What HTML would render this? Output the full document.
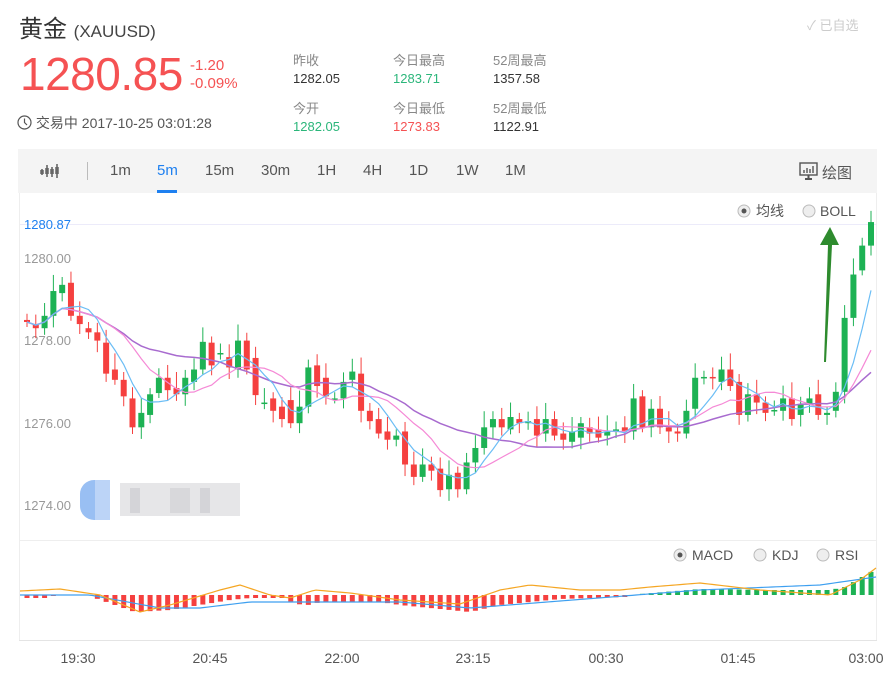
<!DOCTYPE html>
<html><head><meta charset="utf-8">
<style>
body{margin:0;width:887px;height:673px;background:#fff;font-family:"Liberation Sans","Noto Sans CJK SC",sans-serif;overflow:hidden;position:relative}
.a{position:absolute;white-space:nowrap}
</style></head><body>
<div class="a" style="left:19px;top:9px;font-size:24px;color:#333">黄金 <span style="font-size:17px;color:#444">(XAUUSD)</span></div>
<div class="a" style="left:807px;top:15px;font-size:13px;color:#ccc">✓ 已自选</div>
<div class="a" style="left:20px;top:47px;font-size:46px;color:#f55253;letter-spacing:-0.5px">1280.85</div>
<div class="a" style="left:190px;top:57px;font-size:15px;color:#f55253;line-height:18px">-1.20<br>-0.09%</div>
<div class="a" style="left:17px;top:113px;font-size:14px;color:#555">
<svg width="15" height="15" style="vertical-align:-2px"><circle cx="7.5" cy="7.5" r="6.5" fill="none" stroke="#555" stroke-width="1.2"/><path d="M7.5 3.5V7.5L10 10" fill="none" stroke="#555" stroke-width="1.2"/></svg> 交易中 2017-10-25 03:01:28</div>
<div class="a" style="left:293px;top:52px;font-size:13px;color:#888;line-height:18px">昨收<br><span style="color:#333">1282.05</span></div>
<div class="a" style="left:393px;top:52px;font-size:13px;color:#888;line-height:18px">今日最高<br><span style="color:#2bb67a">1283.71</span></div>
<div class="a" style="left:493px;top:52px;font-size:13px;color:#888;line-height:18px">52周最高<br><span style="color:#333">1357.58</span></div>
<div class="a" style="left:293px;top:100px;font-size:13px;color:#888;line-height:18px">今开<br><span style="color:#2bb67a">1282.05</span></div>
<div class="a" style="left:393px;top:100px;font-size:13px;color:#888;line-height:18px">今日最低<br><span style="color:#f55253">1273.83</span></div>
<div class="a" style="left:493px;top:100px;font-size:13px;color:#888;line-height:18px">52周最低<br><span style="color:#333">1122.91</span></div>
<div class="a" style="left:18px;top:149px;width:859px;height:44px;background:#f4f4f4"></div>
<svg class="a" style="left:40px;top:162px" width="22" height="18"><g stroke="#666" stroke-width="1.6"><path d="M2 7v6M7 3v12M12 5v10M17 2v14"/></g><g stroke="#666" stroke-width="3.5"><path d="M2 8v4M7 6v6M12 7v5M17 5v7"/></g></svg>
<div class="a" style="left:87px;top:162px;width:1px;height:18px;background:#bbb"></div>
<div class="a" style="top:162px;left:0;font-size:15px;color:#555;width:887px;height:20px">
<span class="a" style="left:110px">1m</span><span class="a" style="left:157px;color:#1e80f0">5m</span><span class="a" style="left:205px">15m</span><span class="a" style="left:261px">30m</span><span class="a" style="left:317px">1H</span><span class="a" style="left:363px">4H</span><span class="a" style="left:409px">1D</span><span class="a" style="left:456px">1W</span><span class="a" style="left:505px">1M</span><span class="a" style="left:822px">绘图</span></div>
<div class="a" style="left:157px;top:190px;width:20px;height:3px;background:#1e80f0"></div>
<svg class="a" style="left:799px;top:162px" width="19" height="19"><rect x="1" y="1" width="17" height="12" fill="none" stroke="#555" stroke-width="1.4"/><path d="M5 11V8M8 11V6M11 11V7M14 11V4" stroke="#555" stroke-width="1.4"/><path d="M6 17h7M9.5 13v4" stroke="#555" stroke-width="2"/></svg>

<svg class="a" style="left:0;top:0" width="887" height="673" id="ch">
<line x1="19.5" y1="193" x2="19.5" y2="640" stroke="#eee"/>
<line x1="876.5" y1="193" x2="876.5" y2="640" stroke="#eee"/>
<line x1="19" y1="540.5" x2="877" y2="540.5" stroke="#eee"/>
<line x1="19" y1="640.5" x2="877" y2="640.5" stroke="#e4e4e4"/>
<line x1="20" y1="224.5" x2="876" y2="224.5" stroke="#ecebfa"/>
<text x="24" y="229" font-size="13" fill="#1e80f0" font-family="Liberation Sans">1280.87</text>
<g font-size="13" fill="#999" font-family="Liberation Sans">
<text x="24" y="263">1280.00</text><text x="24" y="345">1278.00</text><text x="24" y="428">1276.00</text><text x="24" y="510">1274.00</text></g>
<g id="wm" opacity="0.9">
<rect x="80" y="480" width="30" height="40" fill="#8fb9f2" rx="14"/><rect x="95" y="480" width="15" height="40" fill="#b5d0f7"/>
<rect x="120" y="483" width="120" height="33" fill="#e4e4e6"/><rect x="130" y="488" width="10" height="25" fill="#d0d0d4"/><rect x="170" y="488" width="20" height="25" fill="#d4d4d8"/><rect x="200" y="488" width="10" height="25" fill="#d0d0d4"/></g>
<g id="cd"></g>
<g font-size="14" fill="#555" font-family="Liberation Sans,Noto Sans CJK SC,sans-serif">
<circle cx="744" cy="211" r="6" fill="#eee" stroke="#bbb"/><circle cx="744" cy="211" r="2.5" fill="#555"/><text x="756" y="216">均线</text>
<circle cx="809" cy="211" r="6" fill="#eee" stroke="#bbb"/><text x="820" y="216">BOLL</text>
<circle cx="680" cy="555" r="6" fill="#eee" stroke="#bbb"/><circle cx="680" cy="555" r="2.5" fill="#555"/><text x="692" y="560">MACD</text>
<circle cx="760" cy="555" r="6" fill="#eee" stroke="#bbb"/><text x="772" y="560">KDJ</text>
<circle cx="823" cy="555" r="6" fill="#eee" stroke="#bbb"/><text x="835" y="560">RSI</text>
</g>
<g font-size="14" fill="#555" font-family="Liberation Sans" text-anchor="middle">
<text x="78" y="663">19:30</text><text x="210" y="663">20:45</text><text x="342" y="663">22:00</text><text x="473" y="663">23:15</text><text x="606" y="663">00:30</text><text x="738" y="663">01:45</text><text x="866" y="663">03:00</text></g>
<polygon points="824,362 828,245 820,245 830,227 839,245 832,245 826,362" fill="#2e8b2e"/>
</svg>
<script>
var d=[[1278.5,1278.45],[1278.4,1278.3],[1278.3,1278.6],[1278.6,1279.2],[1279.15,1279.35],[1279.4,1278.6],[1278.6,1278.4],[1278.3,1278.2],[1278.2,1278.0],[1277.95,1277.2],[1277.3,1277.05],[1277.05,1276.65],[1276.6,1275.9],[1275.9,1276.25],[1276.2,1276.7],[1276.73,1277.1],[1277.1,1276.8],[1276.85,1276.7],[1276.7,1277.1],[1277.0,1277.3],[1277.3,1277.97],[1277.95,1277.4],[1277.7,1277.7],[1277.6,1277.35],[1277.3,1278.0],[1278.0,1277.3],[1277.58,1276.68],[1276.5,1276.5],[1276.6,1276.3],[1276.4,1276.1],[1276.56,1276.0],[1276.0,1276.4],[1276.4,1277.35],[1277.4,1276.9],[1277.1,1276.65],[1276.6,1276.6],[1276.6,1277.0],[1277.05,1277.25],[1277.2,1276.3],[1276.3,1276.05],[1276.1,1275.75],[1275.8,1275.6],[1275.6,1275.7],[1275.8,1275.0],[1275.0,1274.7],[1274.7,1275.0],[1275.0,1274.85],[1274.9,1274.38],[1274.4,1274.75],[1274.8,1274.4],[1274.4,1275.05],[1275.05,1275.4],[1275.4,1275.9],[1275.9,1276.1],[1276.1,1275.9],[1275.85,1276.15],[1276.1,1276.0],[1276.0,1276.05],[1276.1,1275.7],[1275.75,1276.1],[1276.1,1275.7],[1275.75,1275.6],[1275.55,1275.8],[1275.65,1276.0],[1275.9,1275.75],[1275.85,1275.65],[1275.7,1275.8],[1275.8,1275.85],[1275.9,1275.8],[1275.8,1276.6],[1276.65,1275.9],[1275.9,1276.35],[1276.35,1275.9],[1275.9,1275.8],[1275.8,1275.75],[1275.75,1276.3],[1276.35,1277.1],[1277.1,1277.12],[1277.12,1277.1],[1277.0,1277.3],[1277.3,1276.9],[1277.0,1276.2],[1276.2,1276.7],[1276.7,1276.5],[1276.5,1276.25],[1276.3,1276.32],[1276.3,1276.6],[1276.6,1276.1],[1276.2,1276.45],[1276.45,1276.6],[1276.7,1276.2],[1276.2,1276.25],[1276.3,1276.76],[1276.76,1278.55],[1278.55,1279.6],[1279.7,1280.3],[1280.3,1280.87]];
var n=d.length,st=(871-27)/(n-1);
function X(i){return 27+i*st}function Y(p){return 258+(1280-p)*41.3}
var s='',c=d.map(function(e){return e[1]});
for(var i=0;i<n;i++){var o=d[i][0],cl=d[i][1],up=cl>=o,col=up?'#1db254':'#f5403f',x=X(i);
var hi=Math.max(o,cl)+0.15+((i*37)%7)/25,lo=Math.min(o,cl)-0.12-((i*53)%5)/25;
s+='<line x1="'+x+'" x2="'+x+'" y1="'+Y(hi)+'" y2="'+Y(lo)+'" stroke="'+col+'"/>';
var t=Y(Math.max(o,cl)),h=Math.max(Math.abs(Y(o)-Y(cl)),1.5);
s+='<rect x="'+(x-3)+'" y="'+t+'" width="6" height="'+h+'" fill="'+col+'"/>';}
function ma(k){var p=[];for(var i=0;i<n;i++){var a=0,m=0;for(var j=Math.max(0,i-k+1);j<=i;j++){a+=c[j];m++}p.push(X(i)+','+Y(a/m))}return p.join(' ')}
s+='<polyline points="'+ma(20)+'" fill="none" stroke="#a86bcf" stroke-width="1.5"/>';
s+='<polyline points="'+ma(10)+'" fill="none" stroke="#f589d6" stroke-width="1.2"/>';
s+='<polyline points="'+ma(5)+'" fill="none" stroke="#6bbdf5" stroke-width="1.2"/>';
function interp(k,x){for(var j=0;j<k.length-1;j++){if(x<=k[j+1][0]){var t=(x-k[j][0])/(k[j+1][0]-k[j][0]);return k[j][1]+t*(k[j+1][1]-k[j][1])}}return k[k.length-1][1]}
var hk=[[20,-3],[50,-3],[55,0],[90,0],[95,-3],[135,-17],[170,-15],[230,-5],[250,-3],[285,-3],[295,-9],[310,-10],[320,-7],[380,-7],[400,-10],[470,-17],[500,-10],[560,-4],[625,-2],[632,0],[640,1],[700,6],[720,6],[760,5],[830,5],[845,8],[876,26]];
var bk=[[20,595],[90,595],[160,608],[200,608],[250,602],[400,602],[470,608],[560,601],[700,590],[820,585],[876,577]];
var ok=[[20,591],[60,589],[100,595],[140,612],[170,605],[220,590],[240,585],[270,595],[290,598],[315,590],[350,593],[400,600],[460,604],[500,590],[530,585],[580,590],[620,590],[650,587],[700,583],[760,590],[830,595],[860,580],[876,568]];
var b=595;
for(i=0;i<n;i++){var x=X(i),v=interp(hk,x);if(Math.abs(v)<0.6)continue;s+='<rect x="'+(x-2.5)+'" y="'+(v>0?b-v:b)+'" width="5" height="'+Math.abs(v)+'" fill="'+(v>0?'#1db254':'#f5403f')+'"/>'}
var pd=[],pe=[];for(var x=20;x<=876;x+=4){pe.push(x+','+interp(bk,x));pd.push(x+','+interp(ok,x))}
s+='<polyline points="'+pe.join(' ')+'" fill="none" stroke="#3d9ff0" stroke-width="1.2"/>';
s+='<polyline points="'+pd.join(' ')+'" fill="none" stroke="#f5a623" stroke-width="1.2"/>';
document.getElementById('cd').innerHTML=s;
</script>
</body></html>
